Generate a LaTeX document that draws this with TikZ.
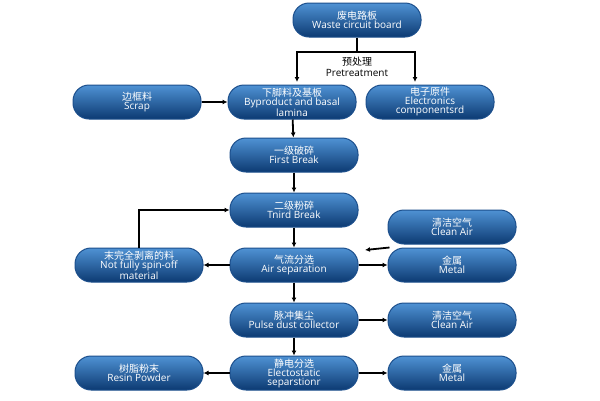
\documentclass[tikz,border=0pt]{standalone}
\usepackage{fontspec}
\setmainfont{Open Sans}
\newfontfamily\cjk{Noto Sans CJK SC}
\usetikzlibrary{arrows.meta}
\definecolor{btop}{HTML}{4F92D4}
\definecolor{bbot}{HTML}{0C3A72}
\definecolor{bedge}{HTML}{1C4F8C}
\begin{document}
\begin{tikzpicture}[x=1pt,y=-1pt,
 box/.style={rounded corners=16pt,minimum width=128pt,minimum height=34pt,top color=btop,bottom color=bbot,draw=bedge,line width=1pt,text=white,align=center,font=\fontsize{10}{9}\selectfont,inner sep=1pt},
 arr/.style={-{Latex[length=5pt,width=5pt]},line width=1.8pt,black}]
\useasboundingbox (0,0) rectangle (600,400);
\fill[white] (0,0) rectangle (600,400);
\node[box] (wb) at (357,20) {{\cjk 废电路板}\\Waste circuit board};
\node[box] (bp) at (292,102) {{\cjk 下脚料及基板}\\Byproduct and basal\\lamina};
\node[box] (sc) at (137,102) {{\cjk 边框料}\\Scrap};
\node[box] (ec) at (430,102) {{\cjk 电子原件}\\Electronics\\componentsrd};
\node[box] (fb) at (294,155) {{\cjk 一级破碎}\\First Break};
\node[box] (tb) at (294,210) {{\cjk 二级粉碎}\\Tnird Break};
\node[box] (as) at (294,265) {{\cjk 气流分选}\\Air separation};
\node[box] (nf) at (139,265) {{\cjk 末完全剥离的料}\\Not fully spin-off\\material};
\node[box] (ca1) at (452,227) {{\cjk 清洁空气}\\Clean Air};
\node[box] (m1) at (452,265) {{\cjk 金属}\\Metal};
\node[box] (pd) at (294,320) {{\cjk 脉冲集尘}\\Pulse dust collector};
\node[box] (ca2) at (452,320) {{\cjk 清洁空气}\\Clean Air};
\node[box] (es) at (294,373) {{\cjk 静电分选}\\Electostatic\\separstionr};
\node[box] (rp) at (139,373) {{\cjk 树脂粉末}\\Resin Powder};
\node[box] (m2) at (452,373) {{\cjk 金属}\\Metal};
\node[align=center,font=\fontsize{10}{11}\selectfont] (pt) at (357,67) {{\cjk 预处理}\\Pretreatment};
\coordinate (j) at (357,52);
\draw[line width=1.8pt] (wb.south) -- (j);
\draw[arr] (j) -- (297,52) -- (297,82);
\draw[arr] (j) -- (415,52) -- (415,82);
\draw[arr] (sc) -- (bp);
\draw[arr] (bp) -- (fb);
\draw[arr] (fb) -- (tb);
\draw[arr] (tb) -- (as);
\draw[arr] (as) -- (pd);
\draw[arr] (pd) -- (es);
\draw[arr] (as) -- (nf);
\draw[arr] (as) -- (m1);
\draw[arr] (pd) -- (ca2);
\draw[arr] (es) -- (rp);
\draw[arr] (es) -- (m2);
\draw[arr] (nf.north) -- (nf.north |- tb.west) -- (tb.west);
\draw[arr] (ca1.south west) ++(2,3) -- (365,250);
\end{tikzpicture}
\end{document}
